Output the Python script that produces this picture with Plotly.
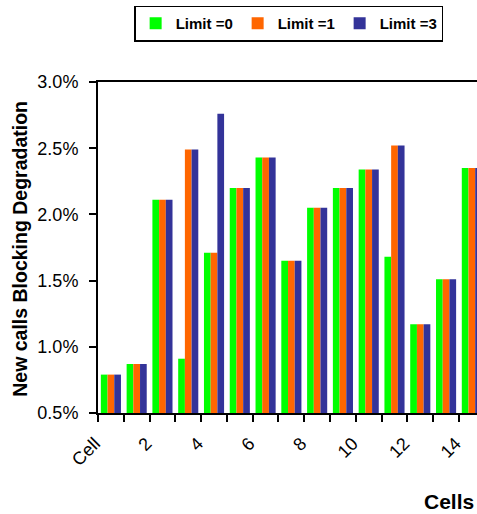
import plotly.graph_objects as go

categories = ["Cell", "1", "2", "3", "4", "5", "6", "7", "8", "9", "10", "11", "12", "13", "14"]
limit0 = [0.79, 0.87, 2.11, 0.91, 1.71, 2.20, 2.43, 1.65, 2.05, 2.20, 2.34, 1.68, 1.17, 1.51, 2.35]
limit1 = [0.79, 0.87, 2.11, 2.49, 1.71, 2.20, 2.43, 1.65, 2.05, 2.20, 2.34, 2.52, 1.17, 1.51, 2.35]
limit3 = [0.79, 0.87, 2.11, 2.49, 2.76, 2.20, 2.43, 1.65, 2.05, 2.20, 2.34, 2.52, 1.17, 1.51, 2.35]
series_names = ["Limit =0", "Limit =1", "Limit =3"]
colors = ["#00FF00", "#FF6600", "#333399"]
y_ticks = [0.5, 1.0, 1.5, 2.0, 2.5, 3.0]

FONT = "Liberation Sans, Arial, Helvetica, sans-serif"
idx = list(range(len(categories)))

fig = go.Figure()
for name, vals, c in zip(series_names, [limit0, limit1, limit3], colors):
    fig.add_trace(go.Bar(x=idx, y=vals, name=name, marker=dict(color=c, line=dict(width=0))))

# dummy trace for label axis
fig.add_trace(go.Scatter(x=idx, y=[None] * len(idx), xaxis="x2", showlegend=False,
                         hoverinfo="skip", mode="markers"))

xr = [-0.5, 14.2]
fig.update_layout(
    width=477, height=514,
    margin=dict(l=98, r=0, t=82, b=101, autoexpand=False),
    paper_bgcolor="white", plot_bgcolor="white",
    barmode="group", bargap=0.22, bargroupgap=0,
    font=dict(family=FONT, color="black"),
    xaxis=dict(
        range=xr, tickmode="array",
        tickvals=[i - 0.5 for i in idx],
        showticklabels=False, ticks="outside", ticklen=7, tickwidth=2, tickcolor="black",
        showline=True, linewidth=2, linecolor="black", mirror=True,
        showgrid=False, zeroline=False, automargin=False,
    ),
    xaxis2=dict(
        range=xr, overlaying="x", anchor="y", side="bottom",
        tickmode="array", tickvals=idx[::2], ticktext=categories[::2],
        tickangle=-45, ticks="outside", ticklen=12, tickcolor="rgba(0,0,0,0)",
        ticklabelshift=-16, ticklabeloverflow="allow",
        tickfont=dict(size=18, family=FONT, color="black"),
        showline=False, showgrid=False, zeroline=False, automargin=False,
    ),
    yaxis=dict(
        range=[0.5, 3.0], tickmode="array", tickvals=y_ticks,
        ticktext=[f"{v:.1f}%" for v in y_ticks],
        ticks="outside", ticklen=7, tickwidth=2, tickcolor="black",
        ticklabelstandoff=7,
        tickfont=dict(size=18, family=FONT, color="black"),
        showline=True, linewidth=2, linecolor="black", mirror=False,
        showgrid=False, zeroline=False, automargin=False,
    ),
    legend=dict(
        orientation="h", x=0.503, xanchor="center", y=1.231, yanchor="top",
        bordercolor="black", borderwidth=1.5,
        font=dict(size=15, family=FONT, color="black", weight="bold"),
        itemwidth=30, entrywidth=57,
    ),
    annotations=[
        dict(text="<b>New calls Blocking Degradation</b>", textangle=-90,
             xref="paper", yref="paper", x=-0.205, y=0.497, xanchor="center", yanchor="middle",
             showarrow=False, font=dict(size=19.5, family=FONT, color="black")),
        dict(text="<b>Cells</b>", xref="paper", yref="paper", x=0.997, y=-0.267,
             xanchor="right", yanchor="middle",
             showarrow=False, font=dict(size=21, family=FONT, color="black")),
    ],
)

fig.write_html("out.html", config={"displayModeBar": False},
               post_script="document.body.style.margin='0';document.body.style.overflow='hidden';")
